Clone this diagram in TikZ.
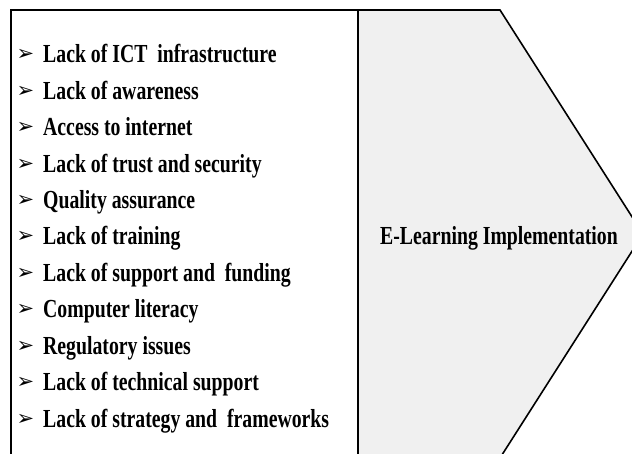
\documentclass[tikz,border=0pt]{standalone}
\usepackage{fontspec}
\newfontfamily\condfont[FakeStretch=0.76]{Liberation Serif}
\newfontfamily\symfont{DejaVu Sans}
\definecolor{shapegrey}{HTML}{F0F0F0}
\tikzset{
  itemtext/.style={anchor=base west, inner sep=0pt, font=\condfont\bfseries\fontsize{26}{28}\selectfont},
  bulletmark/.style={anchor=base, inner sep=0pt, font=\symfont\fontsize{21}{23}\selectfont},
  outline/.style={draw=black, line width=1.6pt, line join=miter},
}
\begin{document}
\begin{tikzpicture}[x=1pt,y=-1pt]
\useasboundingbox (0,0) rectangle (632,454);
\clip (0,0) rectangle (632,454);
% chevron
\path[outline, fill=shapegrey] (358,10) -- (500,10) -- (643,234) -- (500,458) -- (358,458);
% left box
\draw[outline] (11,470) -- (11,10) -- (358,10) -- (358,470);
\node[anchor=base, inner sep=0pt, font=\condfont\bfseries\fontsize{26}{28}\selectfont] (goal) at (499,245) {E-Learning Implementation};
\foreach \t [count=\i from 0] in {Lack of ICT\ \ infrastructure, Lack of awareness, Access to internet, Lack of trust and security, Quality assurance, Lack of training, Lack of support and\ \ funding, Computer literacy, Regulatory issues, Lack of technical support, Lack of strategy and\ \ frameworks}{
  \node[bulletmark] (b\i) at (25.5,{61+36.4*\i}) {➢};
  \node[itemtext] (t\i) at (43,{63+36.4*\i}) {\t};
}
\end{tikzpicture}
\end{document}
